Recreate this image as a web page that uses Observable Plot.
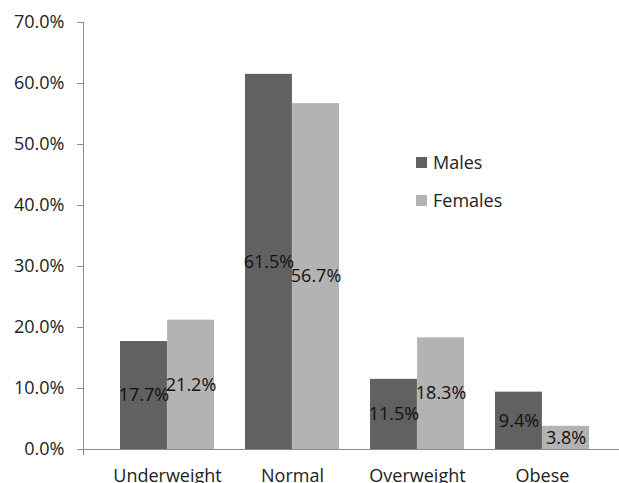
<!DOCTYPE html>
<html>
<head>
<meta charset="utf-8">
<script src="https://cdn.jsdelivr.net/npm/d3@7"></script>
<script src="https://cdn.jsdelivr.net/npm/@observablehq/plot@0.6"></script>
<style>
  html, body { margin: 0; padding: 0; background: #fff; }
  #chart { position: relative; width: 619px; height: 483px; overflow: hidden; }
  #chart svg { position: absolute; left: 0; top: 0; }
  #legend { position: absolute; left: 416px; top: 150px; font-family: "Open Sans", sans-serif; font-size: 18px; color: #222; line-height: 24px; }
  #legend .row { display: flex; align-items: center; height: 24px; margin-bottom: 14px; }
  #legend .sw { width: 11px; height: 11px; margin-right: 6px; }
</style>
</head>
<body>
<div id="chart"></div>
<script>
const categories = ["Underweight", "Normal", "Overweight", "Obese"];
const series = ["Males", "Females"];
const males = [17.7, 61.5, 11.5, 9.4];
const females = [21.2, 56.7, 18.3, 3.8];
const colors = ["#616161", "#b3b3b3"];
const yTicks = [0, 10, 20, 30, 40, 50, 60, 70];

const data = [];
categories.forEach((c, i) => {
  data.push({cat: c, series: "Males", value: males[i]});
  data.push({cat: c, series: "Females", value: females[i]});
});
const maleData = data.filter(d => d.series === "Males");
const femaleData = data.filter(d => d.series === "Females");

const W = 619, H = 483;
const mL = 83, mR = 0, mT = 22, mB = 34;
const pIn = 0.25, pOut = 0.26, align = 0.55;
const bw = d3.scaleBand().domain(categories).range([mL, W - mR])
  .paddingInner(pIn).paddingOuter(pOut).align(align).bandwidth();
const half = bw / 2;

const font = "Open Sans, sans-serif";
const labelText = d => d.value.toFixed(1) + "%";

const chart = Plot.plot({
  width: W, height: H,
  marginLeft: mL, marginRight: mR, marginTop: mT, marginBottom: mB,
  style: {fontFamily: font, fontSize: "18px", background: "#fff", color: "#222"},
  x: {domain: categories, paddingInner: pIn, paddingOuter: pOut, align: align},
  y: {domain: [0, 70]},
  color: {domain: series, range: colors},
  marks: [
    Plot.barY(maleData, {x: "cat", y: "value", fill: "series", insetRight: half, insetLeft: 0}),
    Plot.barY(femaleData, {x: "cat", y: "value", fill: "series", insetLeft: half, insetRight: 0}),
    Plot.text(maleData, {x: "cat", y: d => d.value / 2, text: labelText, dx: -half / 2, fill: "#111", fontSize: 18}),
    Plot.text(femaleData, {x: "cat", y: d => d.value / 2, text: labelText, dx: half / 2, fill: "#111", fontSize: 18}),
    Plot.frame({anchor: "left", stroke: "#8c8c8c", insetBottom: -5}),
    Plot.frame({anchor: "bottom", stroke: "#8c8c8c"}),
    Plot.axisY({ticks: yTicks, tickFormat: d => d.toFixed(1) + "%", tickSize: 6, tickPadding: 13, stroke: "#8c8c8c", color: "#222", label: null, fontSize: 18}),
    Plot.axisX({tickSize: 0, tickPadding: 20, label: null, color: "#222", fontSize: 18})
  ]
});

const container = document.getElementById("chart");
container.appendChild(chart);

const legend = document.createElement("div");
legend.id = "legend";
series.forEach((s, i) => {
  const row = document.createElement("div");
  row.className = "row";
  const sw = document.createElement("span");
  sw.className = "sw";
  sw.style.background = colors[i];
  const t = document.createElement("span");
  t.textContent = s;
  row.appendChild(sw);
  row.appendChild(t);
  legend.appendChild(row);
});
container.appendChild(legend);
</script>
</body>
</html>
